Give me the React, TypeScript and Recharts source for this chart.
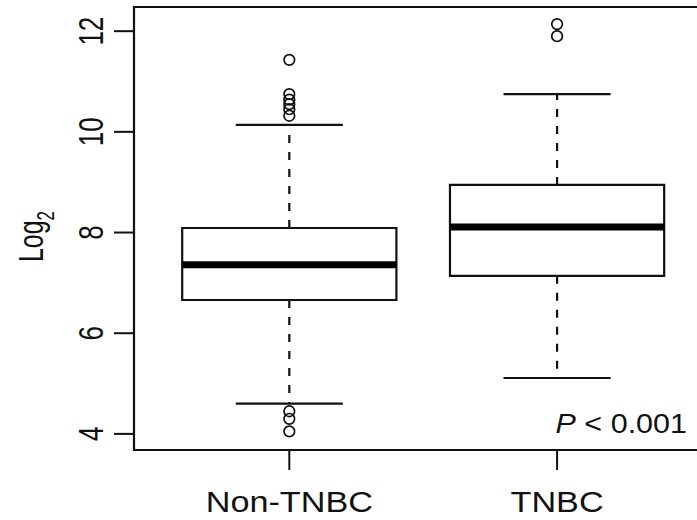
import React from "react";
import {
  ComposedChart,
  XAxis,
  YAxis,
  Scatter,
  ReferenceArea,
  ReferenceLine,
} from "recharts";

// ─── data ─────────────────────────────────────────────────────────────────────

const categories = ["Non-TNBC", "TNBC"];
const positions = [1, 2];
const lowerWhisker = [4.6, 5.11];
const q1 = [6.66, 7.14];
const medians = [7.36, 8.11];
const q3 = [8.09, 8.945];
const upperWhisker = [10.14, 10.75];
const outliersNonTnbc = [11.43, 10.75, 10.64, 10.55, 10.45, 10.32, 4.45, 4.3, 4.05];
const outliersTnbc = [12.14, 11.9];
const yTicks = [4, 6, 8, 10, 12];

const xDomain: [number, number] = [0.42, 2.53];
const yDomain: [number, number] = [3.68, 12.48];
const boxHalf = 0.4;
const capHalf = 0.2;

const outlierPoints = [
  ...outliersNonTnbc.map((y) => ({ x: positions[0], y })),
  ...outliersTnbc.map((y) => ({ x: positions[1], y })),
];

const INK = "#111";
const FONT = "'Liberation Sans', Arial, Helvetica, sans-serif";

// ─── ticks & labels ───────────────────────────────────────────────────────────

const YTick = ({ x, y, payload }: any) => (
  <g transform={`translate(${x},${y}) rotate(-90) scale(1,1.35)`}>
    <text x={0} y={0} textAnchor="middle" fontSize={26} fill={INK} fontFamily={FONT}>
      {payload.value}
    </text>
  </g>
);

const XTick = ({ x, y, payload }: any) => {
  const idx = positions.indexOf(payload.value);
  return (
    <g transform={`translate(${x},${y + 20}) scale(1.14,1)`}>
      <text x={0} y={0} textAnchor="middle" fontSize={30} fill={INK} fontFamily={FONT}>
        {categories[idx]}
      </text>
    </g>
  );
};

const YLabel = ({ viewBox }: any) => {
  const cx = viewBox.x + 43;
  const cy = viewBox.y + viewBox.height / 2 + 8;
  return (
    <g transform={`translate(${cx},${cy}) rotate(-90) scale(1,1.38)`}>
      <text x={0} y={0} textAnchor="middle" fontSize={25} fill={INK} fontFamily={FONT}>
        Log
        <tspan dy={8} fontSize={17}>
          2
        </tspan>
      </text>
    </g>
  );
};

const PLabel = ({ viewBox }: any) => (
  <g transform={`translate(${viewBox.x + viewBox.width - 12},${viewBox.y + viewBox.height - 17}) scale(1.13,1)`}>
    <text x={0} y={0} textAnchor="end" fontSize={27} fill={INK} fontFamily={FONT}>
      <tspan fontStyle="italic">P</tspan> {"<"} 0.001
    </text>
  </g>
);

const Outlier = (props: any) => (
  <circle cx={props.cx} cy={props.cy} r={5.3} fill="none" stroke={INK} strokeWidth={1.7} />
);

// ─── chart ────────────────────────────────────────────────────────────────────

export default function App() {
  return (
    <div
      style={{
        position: "absolute",
        left: 0,
        top: 0,
        width: 697,
        height: 520,
        overflow: "hidden",
        background: "#fff",
      }}
    >
      <ComposedChart width={700} height={520} margin={{ top: 7, right: 1, bottom: 0, left: 0 }}>
        <XAxis
          type="number"
          dataKey="x"
          domain={xDomain}
          ticks={positions}
          allowDataOverflow
          height={70}
          tickSize={20}
          tickMargin={22}
          axisLine={false}
          tickLine={{ stroke: INK, strokeWidth: 2 }}
          tick={<XTick />}
        />
        <YAxis
          type="number"
          dataKey="y"
          domain={yDomain}
          ticks={yTicks}
          allowDataOverflow
          width={134}
          tickSize={20}
          tickMargin={11}
          axisLine={false}
          tickLine={{ stroke: INK, strokeWidth: 2 }}
          tick={<YTick />}
          label={{ content: <YLabel /> }}
        />

        {/* frame */}
        <ReferenceArea
          x1={xDomain[0]}
          x2={xDomain[1]}
          y1={yDomain[0]}
          y2={yDomain[1]}
          fill="none"
          stroke={INK}
          strokeWidth={2.2}
          ifOverflow="visible"
          label={{ content: <PLabel /> }}
        />

        {positions.map((c, i) => (
          <ReferenceArea
            key={`box-${i}`}
            x1={c - boxHalf}
            x2={c + boxHalf}
            y1={q1[i]}
            y2={q3[i]}
            fill="none"
            stroke={INK}
            strokeWidth={2.2}
            ifOverflow="visible"
          />
        ))}

        {positions.map((c, i) => (
          <ReferenceLine
            key={`up-${i}`}
            segment={[
              { x: c, y: q3[i] },
              { x: c, y: upperWhisker[i] },
            ]}
            stroke={INK}
            strokeWidth={2.2}
            strokeDasharray="8 9"
            ifOverflow="visible"
          />
        ))}
        {positions.map((c, i) => (
          <ReferenceLine
            key={`lo-${i}`}
            segment={[
              { x: c, y: q1[i] },
              { x: c, y: lowerWhisker[i] },
            ]}
            stroke={INK}
            strokeWidth={2.2}
            strokeDasharray="8 9"
            ifOverflow="visible"
          />
        ))}
        {positions.map((c, i) => (
          <ReferenceLine
            key={`capu-${i}`}
            segment={[
              { x: c - capHalf, y: upperWhisker[i] },
              { x: c + capHalf, y: upperWhisker[i] },
            ]}
            stroke={INK}
            strokeWidth={2.2}
            ifOverflow="visible"
          />
        ))}
        {positions.map((c, i) => (
          <ReferenceLine
            key={`capl-${i}`}
            segment={[
              { x: c - capHalf, y: lowerWhisker[i] },
              { x: c + capHalf, y: lowerWhisker[i] },
            ]}
            stroke={INK}
            strokeWidth={2.2}
            ifOverflow="visible"
          />
        ))}
        {positions.map((c, i) => (
          <ReferenceLine
            key={`med-${i}`}
            segment={[
              { x: c - boxHalf, y: medians[i] },
              { x: c + boxHalf, y: medians[i] },
            ]}
            stroke="#000"
            strokeWidth={7}
            ifOverflow="visible"
          />
        ))}

        <Scatter data={outlierPoints} dataKey="y" shape={<Outlier />} isAnimationActive={false} />
      </ComposedChart>
    </div>
  );
}
